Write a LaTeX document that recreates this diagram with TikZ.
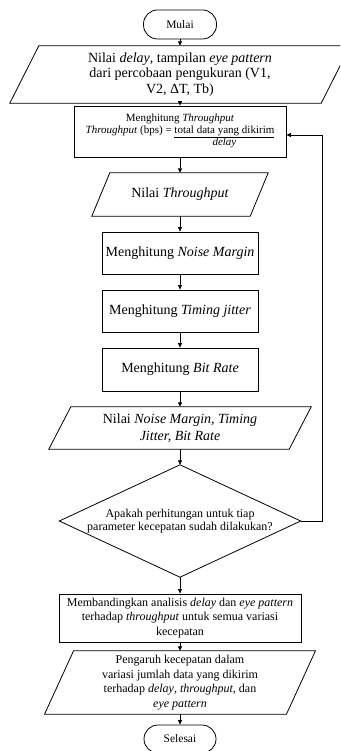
\documentclass[tikz,border=0pt]{standalone}
\usepackage{fontspec}
\setmainfont{Liberation Serif}
\usetikzlibrary{arrows.meta}
\newcommand\paragram[2]{\draw[shp] ([xshift=#2]#1.north west) -- ([xshift=#2]#1.north east) -- ([xshift=-#2]#1.south east) -- ([xshift=-#2]#1.south west) -- cycle;}
\begin{document}
\begin{tikzpicture}[x=1pt,y=-1pt,
  shp/.style={draw=black,line width=0.8pt},
  txt/.style={inner sep=0pt,align=center,rectangle},
  box/.style={txt,shp},
  term/.style={box,rounded corners=14pt},
  arr/.style={line width=0.8pt,-{Triangle[length=4.5pt,width=4pt]}},
  fbig/.style={font=\fontsize{14}{15.5}\selectfont},
  fmid/.style={font=\fontsize{12}{14.5}\selectfont},
  fdia/.style={font=\fontsize{12}{13.5}\selectfont},
  fsml/.style={font=\fontsize{11}{12}\selectfont},
  fterm/.style={font=\fontsize{11.5}{13}\selectfont}]
\useasboundingbox (0,0) rectangle (340,751);
\clip (0,0) rectangle (340,751);

\node[term,fterm,minimum width=73pt,minimum height=29pt] (start) at (180,24.5) {Mulai};

\node[txt,fbig,minimum width=311pt,minimum height=57pt] (in1) at (180,74.5)
  {Nilai \textit{delay}, tampilan \textit{eye pattern}\\dari percobaan pengukuran (V1,\\V2, ΔT, Tb)};
\paragram{in1}{14.5pt}

\node[box,fsml,minimum width=212pt,minimum height=51pt] (thr) at (180,131.5)
  {Menghitung \textit{Throughput}\\\textit{Throughput} (bps) = \begin{tabular}[t]{@{}c@{}}\underline{total data yang dikirim}\\[-1pt]\textit{delay}\end{tabular}};

\node[txt,fbig,minimum width=158pt,minimum height=43pt] (p2) at (180,194.5) {Nilai \textit{Throughput}};
\paragram{p2}{9pt}

\node[box,fbig,minimum width=156pt,minimum height=42pt] (nm) at (180,253) {Menghitung \textit{Noise Margin}};
\node[box,fbig,minimum width=156pt,minimum height=42pt] (tj) at (180,311) {Menghitung \textit{Timing jitter}};
\node[box,fbig,minimum width=156pt,minimum height=43pt] (br) at (180,369.5) {Menghitung \textit{Bit Rate}};

\node[txt,font=\fontsize{14}{16.5}\selectfont,minimum width=240pt,minimum height=42pt] (p3) at (180,428)
  {Nilai \textit{Noise Margin, Timing}\\\textit{Jitter, Bit Rate}};
\paragram{p3}{11pt}

\node[txt,fdia,minimum width=241pt,minimum height=112pt] (dia) at (180,521)
  {Apakah perhitungan untuk tiap\\parameter kecepatan sudah dilakukan?};
\draw[shp] (dia.north) -- (dia.east) -- (dia.south) -- (dia.west) -- cycle;

\node[box,fmid,minimum width=242pt,minimum height=48pt] (cmp) at (180,618)
  {Membandingkan analisis \textit{delay} dan \textit{eye pattern}\\terhadap \textit{throughput} untuk semua variasi\\kecepatan};

\node[txt,font=\fontsize{12}{14.7}\selectfont,minimum width=241.5pt,minimum height=63pt] (p4) at (180,682.5)
  {Pengaruh kecepatan dalam\\variasi jumlah data yang dikirim\\terhadap \textit{delay}, \textit{throughput}, dan\\\textit{eye pattern}};
\paragram{p4}{14.5pt}

\node[term,fterm,minimum width=72pt,minimum height=28pt] (end) at (180,739) {Selesai};

\draw[arr] (start.south) -- (in1.north);
\draw[arr] (in1.south) -- (thr.north);
\draw[arr] (thr.south) -- (p2.north);
\draw[arr] (p2.south) -- (nm.north);
\draw[arr] (nm.south) -- (tj.north);
\draw[arr] (tj.south) -- (br.north);
\draw[arr] (br.south) -- (p3.north);
\draw[arr] (p3.south) -- (dia.north);
\draw[arr] (dia.south) -- (cmp.north);
\draw[arr] (cmp.south) -- (p4.north);
\draw[arr] (p4.south) -- (end.north);

\coordinate (fbc) at (322,135);
\draw[arr] (dia.east) -| (fbc) -- (thr.east |- fbc);
\end{tikzpicture}
\end{document}
